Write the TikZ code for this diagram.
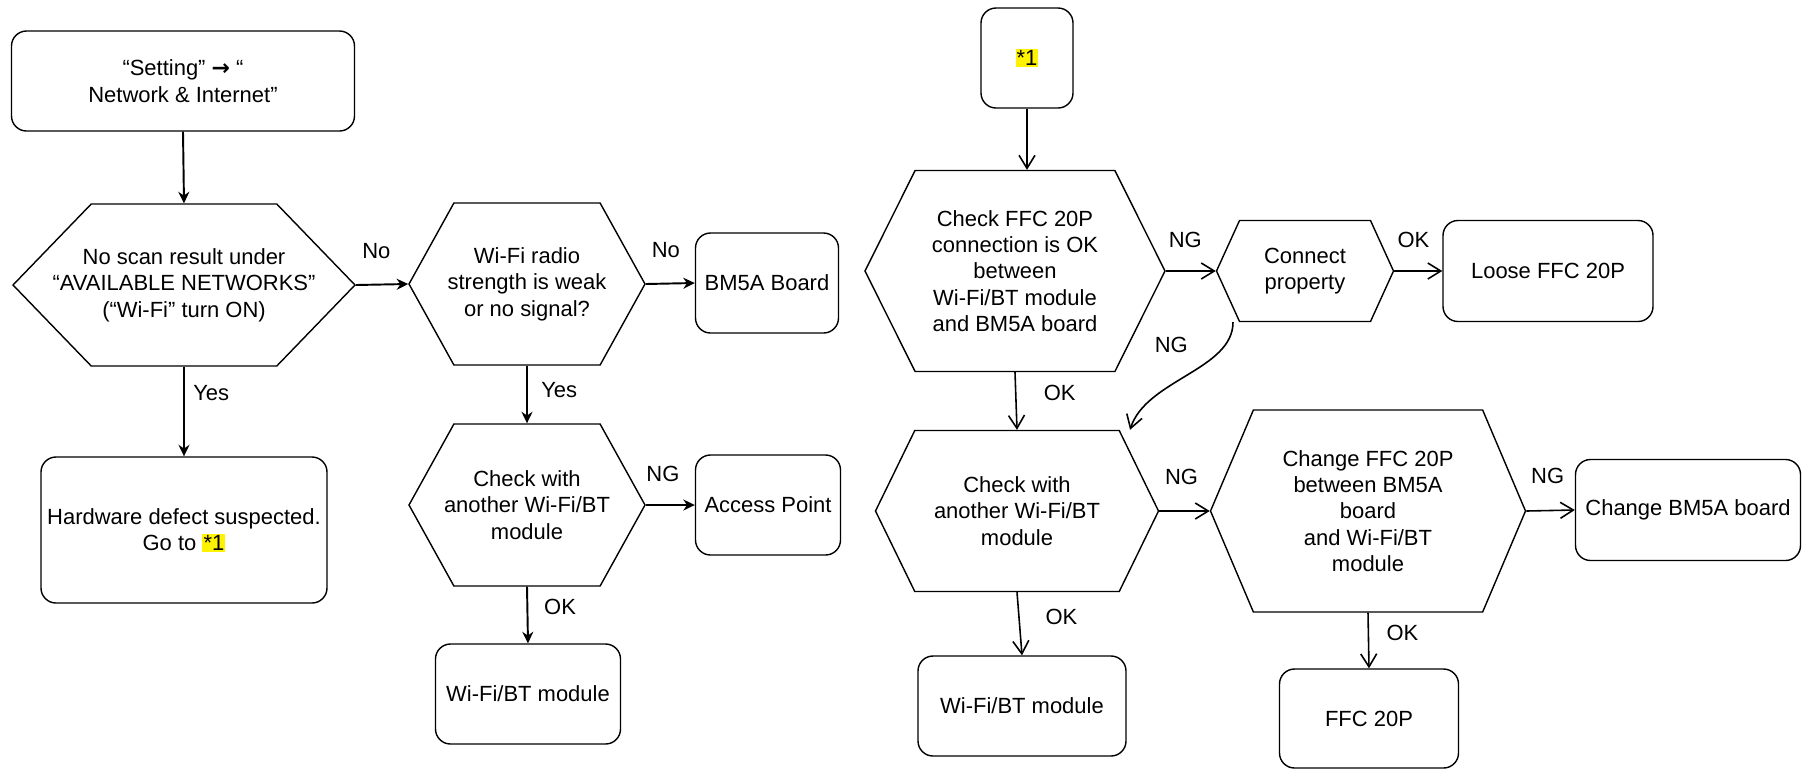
\documentclass[tikz,border=0pt]{standalone}
\usepackage{fontspec}
\setmainfont{Liberation Sans}
\newfontfamily\arrowfont{DejaVu Sans}
\usepackage{tikz}
\usetikzlibrary{arrows.meta, shapes.symbols, positioning}

\newcommand{\hilite}[1]{{\setlength{\fboxsep}{0.6pt}\colorbox{yellow}{#1}}}

\begin{document}
\begin{tikzpicture}[>=Stealth,
    font=\fontsize{12.5pt}{15pt}\selectfont,
    box/.style={draw, line width=0.8pt, rounded corners=0.3cm, align=center},
    hexa/.style={draw, line width=0.8pt, shape=signal, signal to=east and west, align=center, inner sep=1pt},
    arr/.style={-{Stealth[length=2.3mm, width=2.2mm]}, line width=1.1pt},
    barb/.style={-{Straight Barb[length=2.6mm, width=3.2mm]}, line width=0.9pt}]
    \useasboundingbox (0,0) rectangle (36.14,-15.4);

    % Left flow
    \node[box, minimum width=6.86cm, minimum height=2cm] (set) at (3.66,-1.62) {“Setting” {\arrowfont\bfseries →} “\\Network \& Internet”};
    \node[hexa, signal pointer angle=92, inner xsep=-0.82cm, minimum width=6.84cm, minimum height=3.24cm] (scan) at (3.68,-5.70) {No scan result under\\“AVAILABLE NETWORKS”\\(“Wi-Fi” turn ON)};
    \node[box, minimum width=5.72cm, minimum height=2.92cm] (hw) at (3.68,-10.6) {Hardware defect suspected.\\Go to \hilite{*1}};
    \node[hexa, signal pointer angle=122, inner xsep=-0.2cm, minimum width=4.72cm, minimum height=3.24cm] (radio) at (10.54,-5.68) {Wi-Fi radio\\strength is weak\\or no signal?};
    \node[box, minimum width=2.86cm, minimum height=2cm] (bm) at (15.34,-5.66) {BM5A Board};
    \node[hexa, signal pointer angle=122, inner xsep=-0.2cm, minimum width=4.72cm, minimum height=3.24cm] (chk) at (10.54,-10.1) {Check with\\another Wi-Fi/BT\\module};
    \node[box, minimum width=2.9cm, minimum height=2cm] (ap) at (15.36,-10.1) {Access Point};
    \node[box, minimum width=3.7cm, minimum height=2cm] (mod) at (10.56,-13.88) {Wi-Fi/BT module};

    % Right flow
    \node[box, minimum width=1.84cm, minimum height=2cm] (star) at (20.54,-1.16) {\hilite{*1}};
    \node[hexa, signal pointer angle=127, minimum width=6cm, minimum height=4.02cm] (ffc) at (20.3,-5.42) {Check FFC 20P\\connection is OK\\between\\Wi-Fi/BT module\\and BM5A board};
    \node[hexa, signal pointer angle=131, minimum width=3.54cm, minimum height=2.02cm] (conn) at (26.1,-5.42) {Connect\\property};
    \node[box, minimum width=4.2cm, minimum height=2.02cm] (loose) at (30.96,-5.42) {Loose FFC 20P};
    \node[hexa, signal pointer angle=128, minimum width=5.66cm, minimum height=3.22cm] (chk2) at (20.34,-10.22) {Check with\\another Wi-Fi/BT\\module};
    \node[hexa, signal pointer angle=134, minimum width=6.3cm, minimum height=4.04cm] (chg) at (27.36,-10.22) {Change FFC 20P\\between BM5A\\board\\and Wi-Fi/BT\\module};
    \node[box, minimum width=4.5cm, minimum height=2.02cm] (chbm) at (33.76,-10.2) {Change BM5A board};
    \node[box, minimum width=4.16cm, minimum height=2cm] (mod2) at (20.44,-14.12) {Wi-Fi/BT module};
    \node[box, minimum width=3.58cm, minimum height=1.98cm] (fpc) at (27.38,-14.37) {FFC 20P};

    % Left arrows
    \draw[arr] (set.south) -- (scan.north);
    \draw[arr] (scan.east) -- node[above=0.38cm, pos=0.39] {No} (radio.west);
    \draw[arr] (scan.south) -- node[right=0.05cm, pos=0.29] {Yes} (hw.north);
    \draw[arr] (radio.east) -- node[above=0.38cm, pos=0.41] {No} (bm.west);
    \draw[arr] (radio.south) -- node[right=0.15cm, pos=0.42] {Yes} (chk.north);
    \draw[arr] (chk.east) -- node[above=0.32cm, pos=0.35] {NG} (ap.west);
    \draw[arr] (chk.south) -- node[right=0.2cm, pos=0.35] {OK} (mod.north);

    % Right arrows
    \draw[barb] (star.south) -- (star.south |- ffc.north);
    \draw[barb] (ffc.east) -- node[above=0.33cm, pos=0.39] {NG} (conn.west);
    \draw[barb] (conn.east) -- node[above=0.33cm, pos=0.4] {OK} (loose.west);
    \draw[barb] (ffc.south) -- node[right=0.43cm, pos=0.36] {OK} (chk2.north);
    \draw[barb] ([xshift=-1.44cm]conn.south) .. controls +(0,-0.95) and +(0.32,1.0) .. node[left=0.62cm, pos=0.18] {NG} ([xshift=2.26cm]chk2.north);
    \draw[barb] (chk2.east) -- node[above=0.4cm, pos=0.44] {NG} (chg.west);
    \draw[barb] (chg.east) -- node[above=0.4cm, pos=0.44] {NG} (chbm.west);
    \draw[barb] (chk2.south) -- node[right=0.4cm, pos=0.39] {OK} (mod2.north);
    \draw[barb] (chg.south) -- node[right=0.23cm, pos=0.37] {OK} (fpc.north);
\end{tikzpicture}
\end{document}
